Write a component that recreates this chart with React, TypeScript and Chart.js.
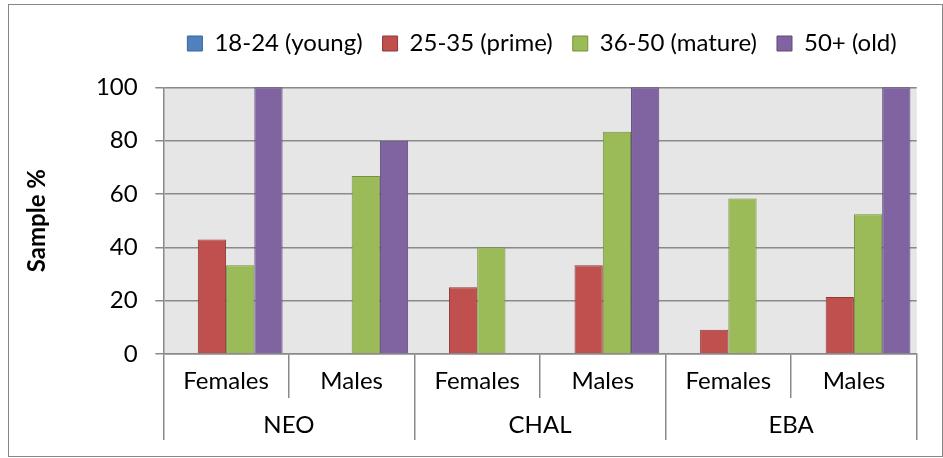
import React, { useEffect, useRef } from "react";
import { Chart, registerables } from "chart.js";

Chart.register(...registerables);

const subCategories = ["Females", "Males", "Females", "Males", "Females", "Males"];
const groups = ["NEO", "CHAL", "EBA"];
const seriesNames = ["18-24 (young)", "25-35 (prime)", "36-50 (mature)", "50+ (old)"];
const young = [0, 0, 0, 0, 0, 0];
const prime = [42.9, 0, 25, 33.3, 9.1, 21.4];
const mature = [33.3, 66.7, 40, 83.3, 58.3, 52.4];
const old = [100, 80, 0, 100, 0, 100];
const yTicks = [0, 20, 40, 60, 80, 100];

const fills = ["#4F81BD", "#C0504D", "#9BBB59", "#8064A2"];
const edges = ["#3A6699", "#8E3A38", "#74903F", "#5E4A7A"];
const gridColor = "#8A8A8A";
const FONT = "Lato";

const plotBg = {
  id: "plotBg",
  beforeDraw(chart: any) {
    const { ctx, chartArea } = chart;
    ctx.save();
    ctx.fillStyle = "#E6E6E6";
    ctx.fillRect(chartArea.left, chartArea.top, chartArea.width, chartArea.height);
    ctx.restore();
  },
};

export default function App() {
  const ref = useRef<HTMLCanvasElement>(null);
  useEffect(() => {
    const series = [young, prime, mature, old];
    const chart = new Chart(ref.current as HTMLCanvasElement, {
      type: "bar",
      data: {
        labels: subCategories,
        datasets: series.map((d, i) => ({
          label: seriesNames[i],
          data: d,
          backgroundColor: fills[i],
          borderColor: edges[i],
          borderWidth: 1,
          categoryPercentage: 0.9,
          barPercentage: 1.0,
        })),
      },
      options: {
        animation: false,
        responsive: true,
        maintainAspectRatio: false,
        layout: { padding: { top: 6.5, right: 25.3, bottom: 0, left: 0 } },
        plugins: {
          tooltip: { enabled: false },
          legend: {
            display: true,
            position: "top",
            align: "end",
            labels: {
              boxWidth: 15,
              boxHeight: 15,
              padding: 20,
              color: "#000",
              font: { family: FONT, size: 24 },
            },
          },
          subtitle: {
            display: true,
            text: " ",
            position: "top",
            weight: 500,
            font: { size: 1, lineHeight: 1 },
            padding: { top: 0, bottom: 20.8 },
          } as any,
        },
        scales: {
          x: {
            type: "category",
            position: "bottom",
            offset: true,
            grid: {
              display: true,
              drawOnChartArea: false,
              offset: true,
              drawTicks: true,
              tickLength: 44,
              color: gridColor,
              lineWidth: 1.5,
            },
            border: { display: true, color: gridColor, width: 1.5 },
            ticks: {
              autoSkip: false,
              maxRotation: 0,
              minRotation: 0,
              padding: -30.7,
              color: "#000",
              font: { family: FONT, size: 24 },
            },
            afterFit: (s: any) => {
              s.height = 44;
            },
          },
          x2: {
            type: "category",
            position: "bottom",
            labels: groups,
            offset: true,
            grid: {
              display: true,
              drawOnChartArea: false,
              offset: true,
              drawTicks: true,
              tickLength: 42,
              color: gridColor,
              lineWidth: 1.5,
            },
            border: { display: false },
            ticks: {
              autoSkip: false,
              maxRotation: 0,
              minRotation: 0,
              padding: -29.4,
              color: "#000",
              font: { family: FONT, size: 24 },
            },
            afterFit: (s: any) => {
              s.height = 58;
            },
          },
          y: {
            type: "linear",
            min: 0,
            max: 100,
            ticks: {
              stepSize: 20,
              padding: 17.6,
              color: "#000",
              font: { family: FONT, size: 24 },
            },
            afterBuildTicks: (s: any) => {
              s.ticks = yTicks.map((v) => ({ value: v }));
            },
            grid: {
              display: true,
              drawOnChartArea: true,
              drawTicks: true,
              tickLength: 8,
              color: gridColor,
              lineWidth: 1.5,
            },
            border: { display: true, color: gridColor, width: 1.5 },
            title: {
              display: true,
              text: "Sample %",
              color: "#000",
              font: { family: FONT, size: 24, weight: "bold" },
              padding: { top: 14.3, bottom: 0 },
            },
            afterFit: (s: any) => {
              s.width = 154.3;
            },
          },
        },
      },
      plugins: [plotBg],
    } as any);
    return () => chart.destroy();
  }, []);

  return (
    <div
      style={{
        position: "absolute",
        left: 8,
        top: 4,
        width: 935,
        height: 453,
        border: "1px solid #878787",
        boxSizing: "border-box",
        background: "#fff",
      }}
    >
      <div style={{ position: "relative", width: "100%", height: "100%" }}>
        <canvas ref={ref} />
      </div>
    </div>
  );
}
